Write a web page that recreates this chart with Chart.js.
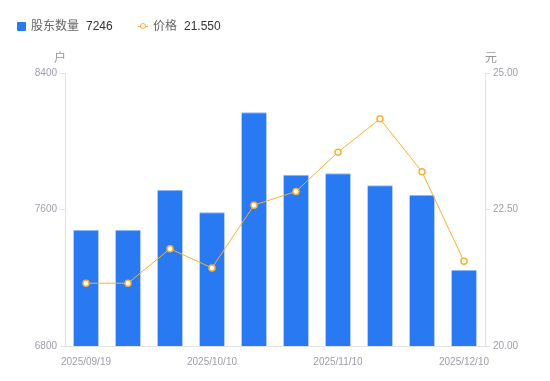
<!DOCTYPE html>
<html>
<head>
<meta charset="utf-8">
<script src="https://cdn.jsdelivr.net/npm/chart.js@4/dist/chart.umd.min.js"></script>
<style>
  body { margin: 0; background: #fff; font-family: "Liberation Sans", "Noto Sans CJK SC", sans-serif; }
  #wrap { position: relative; width: 550px; height: 381px; }
  .lg { position: absolute; top: 15px; font-size: 12px; line-height: 20px; white-space: nowrap; }
  .lg .name { color: #666; font-family: "Noto Sans CJK SC", sans-serif; }
  .lg .val { color: #333; margin-left: 7px; }
  .unit { position: absolute; top: 48px; font-size: 12px; color: #999; font-family: "Noto Sans CJK SC", sans-serif; }
</style>
</head>
<body>
<div id="wrap">
  <canvas id="chart"></canvas>
  <div class="lg" style="left:17px">
    <span style="display:inline-block;width:9px;height:9px;background:#2979f2;border-radius:1px;vertical-align:-1px;margin-right:5px"></span><span class="name">股东数量</span><span class="val" id="lastHolders"></span>
  </div>
  <div class="lg" style="left:138px">
    <span style="display:inline-block;position:relative;width:10px;height:9px;vertical-align:-1px;margin-right:5px">
      <span style="position:absolute;left:0;top:4px;width:10px;height:1px;background:#f7b133"></span>
      <span style="position:absolute;left:2px;top:1px;width:4px;height:4px;border:1.5px solid #f7b133;border-radius:50%;background:#fff"></span>
    </span><span class="name">价格</span><span class="val" id="lastPrice"></span>
  </div>
  <div class="unit" style="left:54px">户</div>
  <div class="unit" style="left:485px">元</div>
</div>
<script>
// ===== DATA =====
const dates = ['2025/09/19', '2025/09/30', '2025/10/01', '2025/10/10', '2025/10/20',
               '2025/10/31', '2025/11/10', '2025/11/20', '2025/11/28', '2025/12/10'];
const holders = [7480, 7480, 7714, 7584, 8170, 7804, 7812, 7742, 7685, 7246];
const prices = [21.15, 21.15, 21.78, 21.43, 22.58, 22.83, 23.55, 24.16, 23.19, 21.55];

const BLUE = '#2979f2';
const ORANGE = '#f7b133';
const TICK = '#9c9eab';
const AXIS = '#e3e3e6';

document.getElementById('lastHolders').textContent = holders[holders.length - 1];
document.getElementById('lastPrice').textContent = prices[prices.length - 1].toFixed(3);

const tickFont = { family: '"Liberation Sans", Arial, sans-serif', size: 10 };

new Chart(document.getElementById('chart'), {
    data: {
        labels: dates,
        datasets: [
            {
                type: 'line',
                label: '价格',
                data: prices,
                yAxisID: 'y1',
                borderColor: ORANGE,
                borderWidth: 1,
                pointRadius: 3,
                pointBorderWidth: 1.5,
                pointBackgroundColor: '#fff',
                pointBorderColor: ORANGE,
                tension: 0,
                order: 0
            },
            {
                type: 'bar',
                label: '股东数量',
                data: holders,
                yAxisID: 'y',
                backgroundColor: BLUE,
                borderColor: '#8ab8f8',
                borderWidth: { top: 1, left: 0, right: 0, bottom: 0 },
                barPercentage: 0.6,
                categoryPercentage: 1,
                order: 1
            }
        ]
    },
    options: {
        responsive: true,
        maintainAspectRatio: false,
        animation: false,
        layout: { padding: { top: 73, bottom: 0, left: 0, right: 0 } },
        plugins: {
            legend: { display: false },
            tooltip: { enabled: false }
        },
        scales: {
            x: {
                offset: true,
                grid: { display: false },
                border: { color: AXIS },
                ticks: {
                    color: TICK,
                    font: tickFont,
                    maxRotation: 0,
                    autoSkip: false,
                    padding: 2,
                    callback: (v, i) => i % 3 === 0 ? dates[i] : ''
                },
                afterFit: s => { s.height = 35; }
            },
            y: {
                position: 'left',
                min: 6800,
                max: 8400,
                ticks: { stepSize: 800, color: TICK, font: tickFont, padding: 3, callback: v => String(v) },
                grid: { drawOnChartArea: false, drawTicks: true, tickLength: 5, color: AXIS },
                border: { color: AXIS },
                afterFit: s => { s.width = 65; }
            },
            y1: {
                position: 'right',
                min: 20,
                max: 25,
                ticks: {
                    stepSize: 2.5, color: TICK, font: tickFont, padding: 3,
                    callback: v => v.toFixed(2)
                },
                grid: { drawOnChartArea: false, drawTicks: true, tickLength: 5, color: AXIS },
                border: { color: AXIS },
                afterFit: s => { s.width = 65; }
            }
        }
    }
});
</script>
</body>
</html>
